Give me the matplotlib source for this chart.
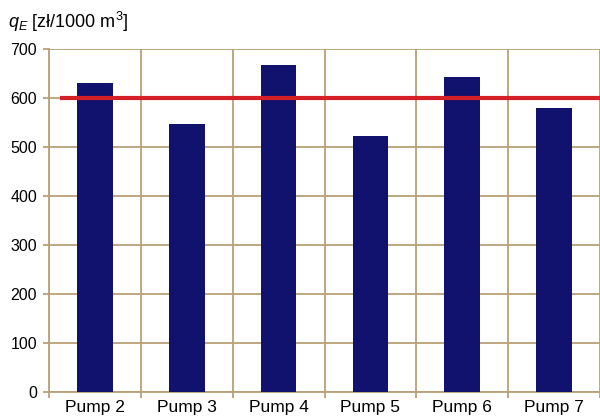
import numpy as np
import matplotlib.pyplot as plt

plt.rcParams['font.family'] = ['Liberation Sans', 'DejaVu Sans']
plt.rcParams['mathtext.fontset'] = 'custom'
plt.rcParams['mathtext.it'] = 'Liberation Sans:italic'
plt.rcParams['mathtext.rm'] = 'Liberation Sans'

# --- data
pumps = ["Pump 2", "Pump 3", "Pump 4", "Pump 5", "Pump 6", "Pump 7"]
q_e = [631, 546, 668, 522, 643, 579]
limit = 600
y_ticks = [0, 100, 200, 300, 400, 500, 600, 700]

grid_col = "#b9a075"
bar_col = "#11116e"
line_col = "#d41f26"

fig = plt.figure(figsize=(6, 4.18), dpi=100)
ax = fig.add_axes([49/600, 1 - 392/418, 551/600, 343/418])

x = np.arange(len(pumps)) + 0.5
ax.bar(x, q_e, width=0.39, color=bar_col, zorder=3)
ax.hlines(limit, 0.12, len(pumps), color=line_col, linewidth=3, zorder=4)

ax.set_xlim(0, len(pumps))
ax.set_ylim(0, 700)
ax.set_yticks(y_ticks)
ax.set_xticks(x)
ax.set_xticklabels(pumps)
ax.set_xticks(np.arange(len(pumps) + 1), minor=True)

# grid: horizontal at y ticks, vertical at category boundaries
for yv in y_ticks:
    ax.axhline(yv, color=grid_col, linewidth=1.3, zorder=1)
for xv in range(len(pumps) + 1):
    ax.axvline(xv, color=grid_col, linewidth=1.3, zorder=1)

for s in ["top", "right"]:
    ax.spines[s].set_visible(False)
for s in ["left", "bottom"]:
    ax.spines[s].set_color(grid_col)
    ax.spines[s].set_linewidth(1.3)

ax.tick_params(axis="y", length=4.5, width=1.3, color=grid_col, labelsize=11.5, pad=4)
ax.tick_params(axis="x", which="major", length=0, labelsize=12.5, pad=6)
ax.tick_params(axis="x", which="minor", length=4, width=1.3, color=grid_col)

fig.text(8/600, 1 - 22/418, r"$q_E$ [zł/1000 m$^3$]", fontsize=13, va="center", ha="left")

fig.savefig("out.png", dpi=100)
